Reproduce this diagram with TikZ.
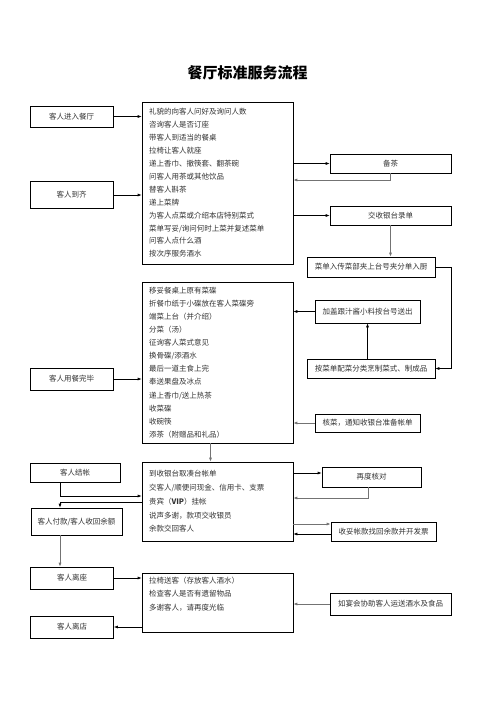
\documentclass[tikz,border=0pt]{standalone}
\usepackage{fontspec}
\setmainfont{Noto Sans CJK SC}
\usetikzlibrary{arrows.meta}

\tikzstyle{cliente}= [rectangle,draw,black,text=black!80,line width=0.6pt,inner sep=0pt,minimum width=83pt,minimum height=22pt,font=\fontsize{7.5}{9}\selectfont]
\tikzstyle{proceso}= [rectangle,draw,black,text=black!80,line width=0.6pt,inner xsep=7pt,text width=137pt,align=left]
\tikzstyle{apoyo}= [rectangle,draw,black,text=black!80,line width=0.6pt,inner sep=0pt,minimum height=19pt,font=\fontsize{7.5}{9}\selectfont]
\tikzstyle{flecha}= [-{Latex[length=4pt,width=3pt]},black,line width=0.6pt]
\tikzstyle{gris}= [-{Latex[length=4pt,width=3pt]},black!55,line width=1pt]

\begin{document}
\begin{tikzpicture}[x=1pt,y=-1pt]
		\fill[white] (0,0) rectangle (496,702);
		\useasboundingbox (0,0) rectangle (496,702);

		\node (titulo) at (247.5,73) {\fontsize{15}{15}\selectfont\bfseries 餐厅标准服务流程};

		% cliente
		\node (k1) at (71.5,116.5) [cliente,minimum height=21pt] {客人进入餐厅};
		\node (k2) at (71.5,195) [cliente,minimum height=27pt] {客人到齐};
		\node (k3) at (71.5,379) [cliente] {客人用餐完毕};
		\node (k4) at (75,472.5) [cliente,minimum width=90pt,minimum height=19pt] {客人结帐};
		\node (k5) at (76.5,521.5) [cliente,minimum width=91pt,minimum height=27pt] {客人付款/客人收回余额};
		\node (k6) at (72,578) [cliente] {客人离座};
		\node (k7) at (72,627) [cliente] {客人离店};

		% servicio
		\node (f1) at (217.5,183) [proceso,minimum height=162pt,font=\fontsize{7.5}{12.9}\selectfont] {礼貌的向客人问好及询问人数\\咨询客人是否订座\\带客人到适当的餐桌\\拉椅让客人就座\\递上香巾、撤筷套、翻茶碗\\问客人用茶或其他饮品\\替客人斟茶\\递上菜牌\\为客人点菜或介绍本店特别菜式\\菜单写妥/询问何时上菜并复述菜单\\问客人点什么酒\\按次序服务酒水};
		\node (f2) at (217.5,362.5) [proceso,minimum height=161pt,font=\fontsize{7.5}{13.1}\selectfont] {移妥餐桌上原有菜碟\\折餐巾纸于小碟放在客人菜碟旁\\端菜上台（并介绍）\\分菜（汤）\\征询客人菜式意见\\换骨碟/添酒水\\最后一道主食上完\\奉送果盘及冰点\\递上香巾/送上热茶\\收菜碟\\收碗筷\\添茶（附赠品和礼品）};
		\node (f3) at (217.5,501.5) [proceso,minimum height=79pt,font=\fontsize{7.5}{13.7}\selectfont] {到收银台取凑台帐单\\交客人/顺便问现金、信用卡、支票\\贵宾（\textbf{VIP}）挂帐\\说声多谢，款项交收银员\\余款交回客人};
		\node (f4) at (217.5,602.5) [proceso,minimum height=59pt,font=\fontsize{7.5}{13.5}\selectfont] {拉椅送客（存放客人酒水）\\检查客人是否有遗留物品\\多谢客人，请再度光临\\ \strut};

		% apoyo
		\node (r1) at (390.5,163.5) [apoyo,minimum width=121pt] {备茶};
		\node (r2) at (390.5,215.5) [apoyo,minimum width=121pt] {交收银台录单};
		\node (r3) at (371,267) [apoyo,minimum width=128pt,minimum height=20pt] {菜单入传菜部夹上台号夹分单入厨};
		\node (r4) at (367.5,311.5) [apoyo,minimum width=105pt,minimum height=23pt] {加盖跟汁酱小料按台号送出};
		\node (r5) at (371,368.5) [apoyo,minimum width=128pt] {按菜单配菜分类烹制菜式、制成品};
		\node (r6) at (367.5,423) [apoyo,minimum width=105pt,minimum height=18pt] {核菜，通知收银台准备帐单};
		\node (r7) at (371.5,477) [apoyo,minimum width=99pt,minimum height=20pt] {再度核对};
		\node (r8) at (383.5,531.5) [apoyo,minimum width=105pt] {收妥帐款找回余款并开发票};
		\node (r9) at (390.5,604) [apoyo,minimum width=121pt,minimum height=22pt] {如宴会协助客人运送酒水及食品};

		\coordinate (t1) at (390.5,180);
		\coordinate (j1) at (60,496);
		\coordinate (j2) at (60,502);
		\coordinate (c1) at (0,473);
		\coordinate (m1) at (368,498);
		\coordinate (c2) at (0,524);
		\coordinate (c3) at (0,534);

		\path[flecha] (k1.east) edge[] node {} (k1.east -| f1.west);
		\path[flecha] (k2.east) edge[] node {} (k2.east -| f1.west);
		\path[flecha] (f1.east |- r1) edge[] node {} (r1.west);
		\draw[gris] (r1.south) |- (f1.east |- t1);
		\path[flecha] (f1.east |- r2) edge[] node {} (r2.west);
		\path[gris] (r2.south) edge[] node {} (r2.south |- r3.north);
		\draw[flecha] (r3.east) -- ++(16,0) |- (r5.east);
		\path[flecha] (r4.south |- r5.north) edge[] node {} (r4.south);
		\path[flecha] (r4.west) edge[] node {} (r4.west -| f2.east);
		\path[gris] (r6.west) edge[] node {} (r6.west -| f2.east);
		\path[flecha] (k3.east) edge[] node {} (k3.east -| f2.west);

		\path[gris] ([xshift=-7pt]f2.south) edge[] node {} ([xshift=-7pt]f3.north);
		\draw[flecha] (k4.south -| j1) |- (f3.west |- j1);
		\draw[flecha] (f3.west |- j2) -| (k5.north -| j2);
		\path[gris] (k5.south -| j1) edge[] node {} (k6.north -| j1);
		\path[flecha] (f3.east |- c1) edge[] node {} (r7.west |- c1);
		\draw[gris] (r7.south -| m1) |- (f3.east |- m1);
		\path[gris] (f3.east |- c2) edge[] node {} (r8.west |- c2);
		\path[flecha] (r8.west |- c3) edge[] node {} (f3.east |- c3);

		\path[flecha] (k6.east) edge[] node {} (k6.east -| f4.west);
		\path[flecha] (f4.west |- k7) edge[] node {} (k7.east);
		\path[gris] (r9.west) edge[] node {} (r9.west -| f4.east);

		\end{tikzpicture}
\end{document}
